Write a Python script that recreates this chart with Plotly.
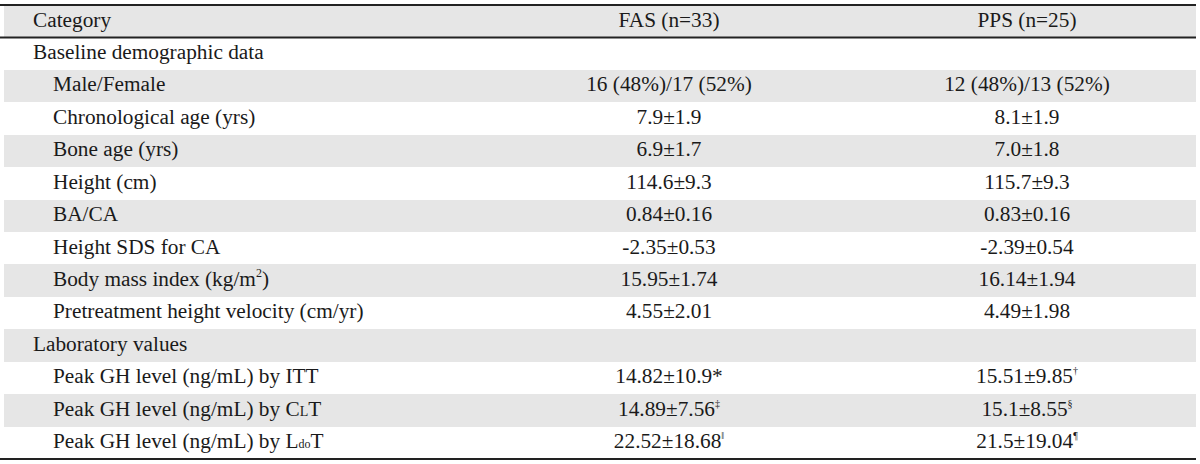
import plotly.graph_objects as go

# ---- data ----
header = ["Category", "FAS (n=33)", "PPS (n=25)"]
categories = [
    "Baseline demographic data",
    "Male/Female",
    "Chronological age (yrs)",
    "Bone age (yrs)",
    "Height (cm)",
    "BA/CA",
    "Height SDS for CA",
    "Body mass index (kg/m<sup><span style='font-size:12px'>2</span></sup>)",
    "Pretreatment height velocity (cm/yr)",
    "Laboratory values",
    "Peak GH level (ng/mL) by ITT",
    "Peak GH level (ng/mL) by C<span style='font-size:14px'>L</span>T",
    "Peak GH level (ng/mL) by L<span style='font-size:12px'>do</span>T",
]
is_section = [True, False, False, False, False, False, False, False, False,
              True, False, False, False]
fas_values = ["", "16 (48%)/17 (52%)", "7.9±1.9", "6.9±1.7", "114.6±9.3",
              "0.84±0.16", "-2.35±0.53", "15.95±1.74", "4.55±2.01", "",
              "14.82±10.9*",
              "14.89±7.56<sup><span style='font-size:10px'>‡</span></sup>",
              "22.52±18.68<sup><span style='font-size:10px'>‖</span></sup>"]
pps_values = ["", "12 (48%)/13 (52%)", "8.1±1.9", "7.0±1.8", "115.7±9.3",
              "0.83±0.16", "-2.39±0.54", "16.14±1.94", "4.49±1.98", "",
              "15.51±9.85<sup><span style='font-size:10px'>†</span></sup>",
              "15.1±8.55<sup><span style='font-size:10px'>§</span></sup>",
              "21.5±19.04<sup><span style='font-size:10px'>¶</span></sup>"]

# ---- layout constants ----
FONT = "Liberation Serif, Times New Roman, serif"
FS = 21.3
TXT = "#1a1a1a"
GRAY = "#e6e6e6"
TABLE_L, TABLE_R = 4, 1196
COL1_X, COL1_INDENT = 33, 53
COL2_X, COL3_X = 669, 1027

n_rows = len(categories) + 1  # including header
rows = list(range(n_rows))
body_rows = rows[1:]

fig = go.Figure()

# shaded rows (header + alternating)
gray_rows = [r for r in rows if r % 2 == 0]
fig.add_trace(go.Bar(
    orientation="h", y=gray_rows, x=[TABLE_R - TABLE_L] * len(gray_rows),
    base=TABLE_L, width=1.0, marker=dict(color=GRAY, line=dict(width=0)),
    hoverinfo="skip", showlegend=False))

# header texts
fig.add_trace(go.Scatter(
    x=[COL1_X], y=[0], text=[header[0]], mode="text",
    textposition="middle right", textfont=dict(family=FONT, size=FS, color=TXT),
    hoverinfo="skip", showlegend=False))
fig.add_trace(go.Scatter(
    x=[COL2_X, COL3_X], y=[0, 0], text=header[1:], mode="text",
    textposition="middle center", textfont=dict(family=FONT, size=FS, color=TXT),
    hoverinfo="skip", showlegend=False))

# category column
fig.add_trace(go.Scatter(
    x=[COL1_X if s else COL1_INDENT for s in is_section], y=body_rows,
    text=categories, mode="text", textposition="middle right",
    textfont=dict(family=FONT, size=FS, color=TXT),
    hoverinfo="skip", showlegend=False))

# value columns (skip empty cells of section rows)
for col_x, vals in ((COL2_X, fas_values), (COL3_X, pps_values)):
    ys = [r for r, v in zip(body_rows, vals) if v]
    ts = [v for v in vals if v]
    fig.add_trace(go.Scatter(
        x=[col_x] * len(ts), y=ys, text=ts, mode="text",
        textposition="middle center",
        textfont=dict(family=FONT, size=FS, color=TXT),
        hoverinfo="skip", showlegend=False))

# rules
for yy in (-0.5, 0.5, n_rows - 0.5):
    fig.add_shape(type="line", x0=0, x1=TABLE_R, y0=yy, y1=yy,
                  line=dict(color="#222222", width=2), layer="above")

# px geometry: header top at 5px, bottom rule at 459px
row_px = (459 - 5) / n_rows
pad_top = 5 / row_px
pad_bot = (464 - 459) / row_px

fig.update_layout(
    width=1200, height=464,
    margin=dict(l=0, r=0, t=0, b=0),
    paper_bgcolor="white", plot_bgcolor="white",
    bargap=0,
    xaxis=dict(range=[0, 1200], visible=False, fixedrange=True),
    yaxis=dict(range=[n_rows - 0.5 + pad_bot, -0.5 - pad_top], visible=False,
               fixedrange=True),
)

fig.write_html(
    "out.html",
    config={"displayModeBar": False},
    post_script="document.body.style.margin='0';document.body.style.overflow='hidden';",
)
